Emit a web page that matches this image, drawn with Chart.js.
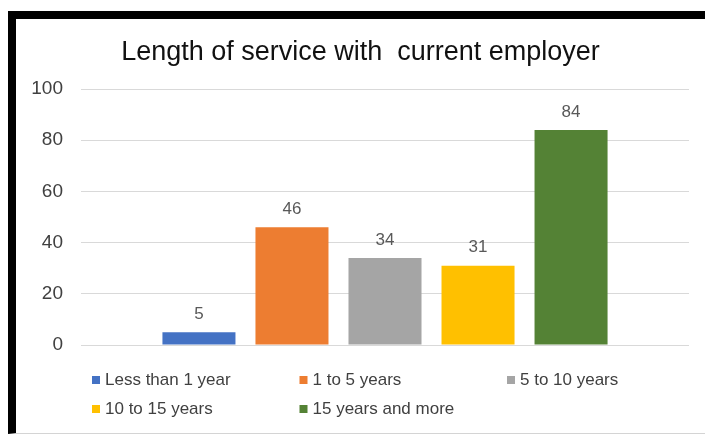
<!DOCTYPE html>
<html>
<head>
<meta charset="utf-8">
<script src="https://cdn.jsdelivr.net/npm/chart.js@4.4.1/dist/chart.umd.min.js"></script>
<style>
  body { margin: 0; background: #fff; overflow: hidden; }
  .frame {
    position: absolute;
    left: 8px;
    top: 11px;
    width: 689px;
    height: 414px;
    border-top: 8px solid #000;
    border-left: 8px solid #000;
    border-bottom: 1px solid #d4d4d4;
  }
  canvas { display: block; }
</style>
</head>
<body>
<div class="frame">
  <canvas id="serviceChart" width="689" height="414"></canvas>
</div>
<script>
// Length of service with current employer
const groups = ['Less than 1 year', '1 to 5 years', '5 to 10 years', '10 to 15 years', '15 years and more'];
const counts = [5, 46, 34, 31, 84];
const colors = ['#4472C4', '#ED7D31', '#A5A5A5', '#FFC000', '#548235'];
const yTicks = [0, 20, 40, 60, 80, 100];

const FONT = '"Liberation Sans", Arial, sans-serif';

// value labels above each bar
const barValues = {
  id: 'barValues',
  afterDatasetsDraw(chart) {
    const ctx = chart.ctx;
    ctx.save();
    ctx.font = '17px ' + FONT;
    ctx.fillStyle = '#595959';
    ctx.textAlign = 'center';
    ctx.textBaseline = 'middle';
    chart.data.datasets.forEach((ds, i) => {
      chart.getDatasetMeta(i).data.forEach((bar, j) => {
        ctx.fillText(ds.data[j], bar.x, bar.y - 18);
      });
    });
    ctx.restore();
  }
};

// legend laid out in fixed columns, two rows
const gridLegend = {
  id: 'gridLegend',
  afterDraw(chart) {
    const ctx = chart.ctx;
    const area = chart.chartArea;
    const colW = 207.5;
    const rowY = [area.bottom + 35, area.bottom + 64];
    ctx.save();
    ctx.font = '17px ' + FONT;
    ctx.textBaseline = 'middle';
    ctx.textAlign = 'left';
    chart.data.datasets.forEach((ds, i) => {
      const col = i % 3;
      const row = Math.floor(i / 3);
      const x = area.left + 11 + col * colW;
      const y = rowY[row];
      ctx.fillStyle = ds.backgroundColor;
      ctx.fillRect(x, y - 4, 8, 8);
      ctx.fillStyle = '#404040';
      ctx.fillText(ds.label, x + 13, y);
    });
    ctx.restore();
  }
};

const datasets = groups.map((g, i) => ({
  label: g,
  data: [counts[i]],
  backgroundColor: colors[i],
  barPercentage: 0.785,
  categoryPercentage: 0.765
}));

new Chart(document.getElementById('serviceChart'), {
  type: 'bar',
  data: {
    labels: [''],
    datasets: datasets
  },
  options: {
    responsive: false,
    animation: false,
    layout: {
      padding: { left: 16, right: 16, top: 0, bottom: 88 }
    },
    plugins: {
      legend: { display: false },
      tooltip: { enabled: false },
      title: {
        display: true,
        text: 'Length of service with  current employer',
        color: '#111111',
        font: { family: FONT, size: 27, weight: 'normal' },
        padding: { top: 17, bottom: 20.6 }
      }
    },
    scales: {
      x: {
        display: false
      },
      y: {
        min: 0,
        max: 100,
        afterFit(scale) { scale.width = 49; },
        afterBuildTicks(scale) { scale.ticks = yTicks.map(v => ({ value: v })); },
        border: { display: false },
        grid: { color: '#d9d9d9', lineWidth: 1, drawTicks: false },
        ticks: {
          color: '#404040',
          padding: 18,
          font: { family: FONT, size: 19 }
        }
      }
    }
  },
  plugins: [barValues, gridLegend]
});
</script>
</body>
</html>
